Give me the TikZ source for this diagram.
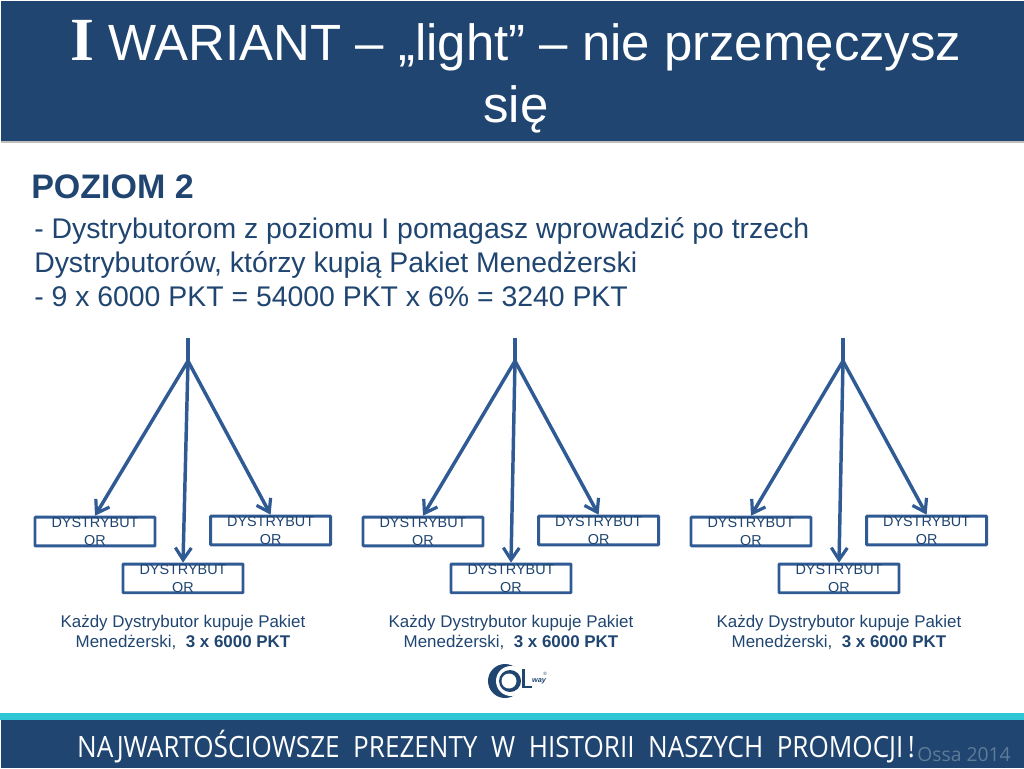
\documentclass[tikz,border=0pt]{standalone}
\usepackage{fontspec}
\setmainfont{Liberation Sans}
\newfontfamily\romanfont{Liberation Serif}
\newfontfamily\bannerfont{Open Sans}
\usepackage{xcolor}
\usetikzlibrary{arrows.meta, positioning}
\definecolor{slidenavy}{HTML}{1F4570}
\definecolor{slideblue}{HTML}{2F5A94}
\definecolor{slideteal}{HTML}{2FC6D6}
\definecolor{slidegrey}{HTML}{5E7C98}

\begin{document}
\begin{tikzpicture}[
    x=0.75pt, y=-0.75pt,
    distbox/.style={
      rectangle,
      draw=slideblue,
      line width=2.2pt,
      rounded corners=0.5pt,
      inner sep=0pt,
      align=center,
      minimum width=90pt,
      minimum height=21.5pt,
      text=slidenavy,
      font=\fontsize{10.8}{13.5}\selectfont
    },
    arrow/.style={-{Straight Barb[length=9pt, width=12pt, line width=2.4pt]}, line width=2.6pt, draw=slideblue},
    stem/.style={line width=2.6pt, draw=slideblue},
    caption/.style={align=center, text=slidenavy, font=\fontsize{12.7}{15}\selectfont}
  ]
    \useasboundingbox (0,0) rectangle (1024,768);

    % bars
    \fill[slidenavy] (1,1) rectangle (1024,141);
    \fill[black!25] (1,141) rectangle (1024,142.5);
    \fill[slideteal] (0,713) rectangle (1024,720);
    \fill[slidenavy] (1,720) rectangle (1024,768);

    \node[align=center, text=white, font=\fontsize{38.2}{46.5}\selectfont] (title) at (516,77)
      {{\romanfont\bfseries\fontsize{46}{46.5}\selectfont I} WARIANT – „light” – nie przemęczysz\\się};

    \node[anchor=base west, inner sep=0pt, text=slidenavy, font=\fontsize{25.5}{27}\selectfont\bfseries] (level) at (31,198) {POZIOM 2};
    \node[anchor=north west, inner sep=0pt, align=left, text=slidenavy, font=\fontsize{21.3}{25.5}\selectfont] (intro) at (34,217)
      {- Dystrybutorom z poziomu I pomagasz wprowadzić po trzech\\Dystrybutorów, którzy kupią Pakiet Menedżerski\\- 9 x 6000 PKT = 54000 PKT x 6\% = 3240 PKT};

    % first group
    \coordinate (topA) at (188,338);
    \coordinate (apexA) at (188,361);
    \node[distbox] (distA) at (95,531.5) {DYSTRYBUT\\OR};
    \node[distbox, right=39.5pt of distA, yshift=0.75pt] (distB) {DYSTRYBUT\\OR};
    \node[distbox, below=11.5pt of distA, xshift=66pt] (distC) {DYSTRYBUT\\OR};
    \draw[stem] (topA) -- (apexA);
    \draw[arrow] (apexA) -- (distA.north);
    \draw[arrow] (apexA) -- (distB.north);
    \draw[arrow] (apexA) -- (distC.north);
    \node[caption, below=12pt of distC] (noteA) {Każdy Dystrybutor kupuje Pakiet\\Menedżerski,\ \ \textbf{3 x 6000 PKT}};

    % second group
    \coordinate (topB) at (515,338);
    \coordinate (apexB) at (515,361);
    \node[distbox] (distD) at (423,531.5) {DYSTRYBUT\\OR};
    \node[distbox, right=39.5pt of distD, yshift=0.75pt] (distE) {DYSTRYBUT\\OR};
    \node[distbox, below=11.5pt of distD, xshift=66pt] (distF) {DYSTRYBUT\\OR};
    \draw[stem] (topB) -- (apexB);
    \draw[arrow] (apexB) -- (distD.north);
    \draw[arrow] (apexB) -- (distE.north);
    \draw[arrow] (apexB) -- (distF.north);
    \node[caption, below=12pt of distF] (noteB) {Każdy Dystrybutor kupuje Pakiet\\Menedżerski,\ \ \textbf{3 x 6000 PKT}};

    % third group
    \coordinate (topC) at (843,338);
    \coordinate (apexC) at (843,361);
    \node[distbox] (distG) at (751,531.5) {DYSTRYBUT\\OR};
    \node[distbox, right=39.5pt of distG, yshift=0.75pt] (distH) {DYSTRYBUT\\OR};
    \node[distbox, below=11.5pt of distG, xshift=66pt] (distI) {DYSTRYBUT\\OR};
    \draw[stem] (topC) -- (apexC);
    \draw[arrow] (apexC) -- (distG.north);
    \draw[arrow] (apexC) -- (distH.north);
    \draw[arrow] (apexC) -- (distI.north);
    \node[caption, below=12pt of distI] (noteC) {Każdy Dystrybutor kupuje Pakiet\\Menedżerski,\ \ \textbf{3 x 6000 PKT}};

    % logo
    \fill[slidenavy] (505,681) circle (17);
    \fill[white] (511,681) circle (15);
    \fill[slidenavy] (510,681) circle (11);
    \fill[white] (509,681) circle (7.5);
    \fill[slidenavy] (522,669) rectangle (525,688);
    \fill[slidenavy] (522,685.5) rectangle (532,688);
    \node[inner sep=0pt, text=slidenavy, font=\fontsize{5.5}{5.5}\selectfont\bfseries\itshape] (logoway) at (539,681) {way};
    \node[inner sep=0pt, text=slidenavy, font=\fontsize{3.5}{4}\selectfont] (logomark) at (545,673.5) {®};

    \node[anchor=base west, inner sep=0pt, text=white, xscale=0.889, transform shape, font=\bannerfont\fontsize{22}{24}\selectfont] (banner) at (77,757) {NAJWARTOŚCIOWSZE\ \ PREZENTY\ \ W\ \ HISTORII\ \ NASZYCH\ \ PROMOCJI\,!};
    \node[anchor=base west, inner sep=0pt, text=slidegrey, font=\bannerfont\fontsize{14.5}{16}\selectfont] (year) at (917,761) {Ossa 2014};
\end{tikzpicture}
\end{document}
